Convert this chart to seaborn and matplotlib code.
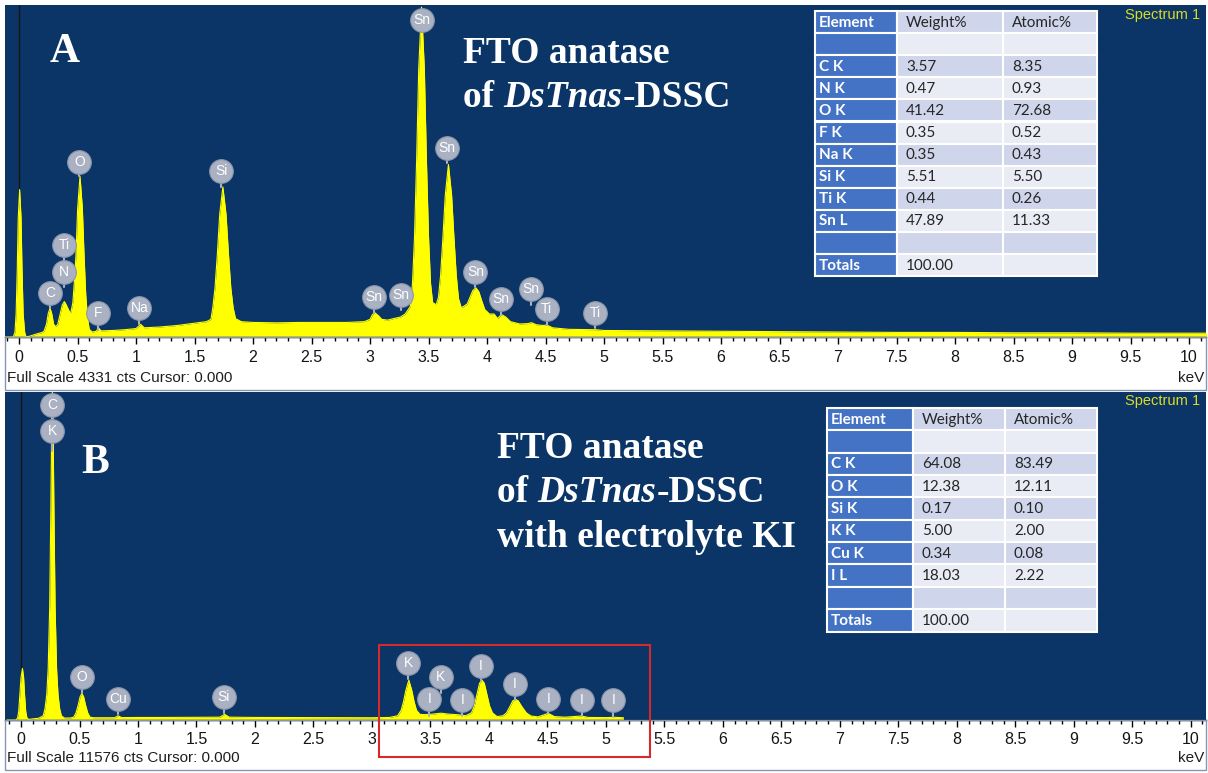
import numpy as np
import pandas as pd
import matplotlib.pyplot as plt
import seaborn as sns
from matplotlib.patches import Rectangle
from matplotlib.ticker import MultipleLocator, FormatStrFormatter

# ============================
# DATA
# ============================
# Panel A spectrum: energy (keV) and counts
energy_a = [-0.12, -0.05, -0.035, -0.025, -0.015, -0.007, 0.005, 0.017, 0.025, 0.035, 0.048, 0.06,
            0.09, 0.15, 0.2, 0.215, 0.235, 0.25, 0.265, 0.28, 0.295, 0.31, 0.33, 0.35, 0.37, 0.387,
            0.40, 0.415, 0.436, 0.445, 0.46, 0.472, 0.486, 0.501, 0.521, 0.541, 0.556, 0.57, 0.585,
            0.60, 0.625, 0.66, 0.68, 0.70, 0.8, 0.9, 1.0, 1.04, 1.07, 1.2, 1.35, 1.5, 1.6, 1.64,
            1.656, 1.675, 1.695, 1.715, 1.742, 1.769, 1.79, 1.81, 1.83, 1.85, 1.9, 2.0, 2.2, 2.4,
            2.6, 2.8, 2.95, 3.0, 3.02, 3.04, 3.07, 3.1, 3.15, 3.2, 3.26, 3.3, 3.345, 3.363, 3.38,
            3.398, 3.416, 3.44, 3.464, 3.482, 3.50, 3.517, 3.535, 3.565, 3.585, 3.603, 3.623, 3.643,
            3.67, 3.697, 3.717, 3.737, 3.756, 3.78, 3.83, 3.86, 3.88, 3.905, 3.93, 3.955, 3.98, 4.02,
            4.06, 4.09, 4.11, 4.13, 4.16, 4.2, 4.28, 4.35, 4.38, 4.42, 4.48, 4.51, 4.56, 4.7, 4.93,
            5.0, 5.5, 6.0, 6.5, 7.0, 7.5, 8.0, 8.5, 9.0, 9.5, 10.0, 10.15]
counts_a = [0, 0, 60, 300, 900, 1550, 1923, 1550, 900, 300, 60, 0,
            10, 40, 60, 80, 170, 310, 375, 300, 170, 135, 160, 290, 420, 462,
            430, 380, 314, 330, 450, 700, 1050, 1680, 2097, 1680, 1050, 550, 250,
            100, 65, 75, 118, 80, 85, 95, 110, 165, 120, 130, 150, 180, 200, 230,
            380, 640, 1080, 1600, 1958, 1600, 1080, 640, 380, 240, 200, 190, 185, 190,
            190, 190, 200, 230, 290, 318, 280, 230, 220, 240, 260, 300, 400, 700, 1300,
            2300, 3500, 4303, 3500, 2300, 1300, 700, 450, 420, 520, 800, 1300, 1850,
            2250, 1850, 1300, 800, 500, 380, 430, 540, 610, 641, 590, 470, 360, 300,
            300, 240, 275, 288, 260, 200, 170, 175, 187, 160, 150, 157, 120, 100, 95,
            85, 80, 75, 70, 65, 60, 60, 55, 55, 50, 50, 50]

# Panel B spectrum
energy_b = [-0.12, -0.045, -0.03, -0.02, -0.01, 0.0, 0.012, 0.022, 0.03, 0.04, 0.05, 0.065,
            0.1, 0.15, 0.19, 0.205, 0.22, 0.232, 0.245, 0.255, 0.262, 0.268, 0.274, 0.281, 0.291,
            0.304, 0.316, 0.33, 0.345, 0.37, 0.42, 0.45, 0.47, 0.49, 0.505, 0.52, 0.535, 0.55,
            0.57, 0.59, 0.62, 0.8, 0.83, 0.86, 1.0, 1.2, 1.5, 1.7, 1.74, 1.78, 2.0, 2.5, 3.0,
            3.15, 3.22, 3.25, 3.27, 3.29, 3.315, 3.34, 3.36, 3.38, 3.41, 3.45, 3.5, 3.59, 3.65,
            3.75, 3.8, 3.85, 3.875, 3.9, 3.92, 3.94, 3.96, 3.98, 4.005, 4.03, 4.07, 4.12, 4.15,
            4.18, 4.205, 4.228, 4.25, 4.28, 4.32, 4.36, 4.42, 4.507, 4.56, 4.65, 4.79, 4.85,
            5.0, 5.077, 5.15]
counts_b = [0, 0, 60, 300, 900, 1500, 1820, 1500, 900, 300, 80, 20,
            40, 60, 150, 400, 900, 1800, 4000, 7500, 10300, 11576, 10300, 7500, 4000,
            1800, 900, 400, 150, 70, 70, 100, 250, 550, 820, 940, 820, 550,
            250, 100, 80, 80, 150, 85, 90, 90, 95, 100, 200, 100, 90, 85, 80,
            90, 150, 350, 650, 1050, 1408, 1050, 650, 350, 200, 190, 200, 240, 210,
            180, 150, 250, 500, 950, 1300, 1408, 1300, 950, 500, 250, 120, 150, 250,
            480, 680, 728, 680, 480, 250, 140, 110, 235, 120, 100, 140, 90,
            85, 94, 80]

# Peak markers: element, energy, label height, end of stem (counts)
marks_a = ['C', 'N', 'Ti', 'O', 'F', 'Na', 'Si', 'Sn', 'Sn', 'Sn', 'Sn', 'Sn', 'Sn', 'Sn', 'Ti', 'Ti']
mark_a_x = [0.265, 0.387, 0.387, 0.515, 0.672, 1.028, 1.73, 3.034, 3.265, 3.442, 3.66, 3.9,
            4.12, 4.373, 4.51, 4.923]
mark_a_y = [579, 854, 1194, 2285, 310, 375, 2171, 527, 549, 4133, 2468, 854, 497, 624, 362, 318]
mark_a_end = [379, 658, 854, 2097, 92, 170, 1962, 314, 353, 3993, 2276, 658, 288, 419, 157, 114]

marks_b = ['C', 'K', 'O', 'Cu', 'Si', 'K', 'I', 'K', 'I', 'I', 'I', 'I', 'I', 'I']
mark_b_x = [0.268, 0.265, 0.519, 0.832, 1.735, 3.31, 3.49, 3.59, 3.772, 3.932, 4.222, 4.507,
            4.792, 5.063]
mark_b_y = [11113, 10208, 1503, 728, 799, 2017, 728, 1525, 704, 1901, 1267, 728, 704, 704]
mark_b_end = [10208, 9500, 940, 211, 246, 1433, 141, 940, 141, 1408, 704, 235, 141, 117]

# Quantification tables
tab_a_elem = ['Element', '', 'C K', 'N K', 'O K', 'F K', 'Na K', 'Si K', 'Ti K', 'Sn L', '', 'Totals']
tab_a_weight = ['Weight%', '', '3.57', '0.47', '41.42', '0.35', '0.35', '5.51', '0.44', '47.89', '', '100.00']
tab_a_atomic = ['Atomic%', '', '8.35', '0.93', '72.68', '0.52', '0.43', '5.50', '0.26', '11.33', '', '']

tab_b_elem = ['Element', '', 'C K', 'O K', 'Si K', 'K K', 'Cu K', 'I L', '', 'Totals']
tab_b_weight = ['Weight%', '', '64.08', '12.38', '0.17', '5.00', '0.34', '18.03', '', '100.00']
tab_b_atomic = ['Atomic%', '', '83.49', '12.11', '0.10', '2.00', '0.08', '2.22', '', '']

full_scale = [4331, 11576]

# ============================
# STYLE
# ============================
sns.set_theme(style='white')
plt.rcParams['font.family'] = ['Liberation Sans', 'DejaVu Sans']

W, H = 1208, 773
BG = '#0a3566'
YELLOW = '#ffff00'
MARK = '#a9b1c2'
TAB_BLUE = '#4472c4'
TAB_DARK = '#cfd5ea'
TAB_LIGHT = '#e9ecf5'

fig = plt.figure(figsize=(W / 100, H / 100), dpi=100)
fig.patch.set_facecolor('white')


def px_axes(left, top, right, bottom):
    return fig.add_axes([left / W, 1 - bottom / H, (right - left) / W, (bottom - top) / H])


def draw_spectrum(ax, energy, counts, xlim, ymax, names, mx, my, mend):
    ax.set_facecolor(BG)
    ax.set_xlim(*xlim)
    ax.set_ylim(0, ymax)
    ax.axvline(0, color='#151515', lw=1, zorder=1)
    df = pd.DataFrame({'keV': energy, 'cts': counts})
    ax.fill_between(df['keV'], df['cts'], color=YELLOW, lw=0, zorder=2)
    sns.lineplot(data=df, x='keV', y='cts', ax=ax, color=YELLOW, lw=0.8, zorder=3)
    ax.set_xlabel('')
    ax.set_ylabel('')
    ax.set_yticks([])
    ax.xaxis.set_major_locator(MultipleLocator(0.5))
    ax.xaxis.set_minor_locator(MultipleLocator(0.1))
    ax.xaxis.set_major_formatter(FormatStrFormatter('%g'))
    ax.tick_params(axis='x', which='both', bottom=True, direction='out', color='black', width=1)
    ax.tick_params(axis='x', which='major', length=5, pad=4, labelsize=11.5, labelcolor='#151515')
    ax.tick_params(axis='x', which='minor', length=3)
    for s in ['top', 'right', 'left']:
        ax.spines[s].set_visible(False)
    ax.spines['bottom'].set_color('black')
    ax.spines['bottom'].set_linewidth(1)

    # peak identification markers
    for x, y, e in zip(mx, my, mend):
        ax.plot([x, x], [e, y], color=MARK, lw=1.5, zorder=4, clip_on=False)
    ax.scatter(mx, my, s=290, color=MARK, edgecolor='#8c96aa', lw=0.8, zorder=5, clip_on=False)
    for t, x, y in zip(names, mx, my):
        ax.text(x, y, t, ha='center', va='center', color='white', fontsize=10, zorder=6)


ax_a = px_axes(5, 5, 1206, 337)
draw_spectrum(ax_a, energy_a, counts_a, (-0.12, 10.145), full_scale[0],
              marks_a, mark_a_x, mark_a_y, mark_a_end)

ax_b = px_axes(5, 392, 1206, 720)
draw_spectrum(ax_b, energy_b, counts_b, (-0.137, 10.13), full_scale[1],
              marks_b, mark_b_x, mark_b_y, mark_b_end)

# ============================
# OVERLAY: tables, captions, frames
# ============================
ov = fig.add_axes([0, 0, 1, 1], zorder=10)
ov.set_xlim(0, W)
ov.set_ylim(H, 0)
ov.axis('off')


def draw_table(cols, top, row_h, elem, weight, atomic):
    for i, row in enumerate(zip(elem, weight, atomic)):
        y = top + i * row_h
        shade = TAB_DARK if i % 2 == 0 else TAB_LIGHT
        for j, txt in enumerate(row):
            x0, x1 = cols[j], cols[j + 1]
            fc = TAB_BLUE if j == 0 else shade
            ov.add_patch(Rectangle((x0, y), x1 - x0, row_h, fc=fc, ec='white', lw=1.5))
            ov.text(x0 + (4 if j == 0 else 9), y + row_h / 2 + 0.5, txt, ha='left', va='center',
                    fontsize=11, family=['Lato', 'DejaVu Sans'],
                    color='white' if j == 0 else '#262626',
                    fontweight='bold' if j == 0 else 'normal')


draw_table([815, 897, 1003, 1097], 11, 22.1, tab_a_elem, tab_a_weight, tab_a_atomic)
draw_table([827, 913, 1005, 1097], 408, 22.35, tab_b_elem, tab_b_weight, tab_b_atomic)

for y in [15, 401]:
    ov.text(1200, y, 'Spectrum 1', ha='right', va='center', fontsize=10.5, color='#dcdc24')

# axis strips
for top, bot, fs in [(337, 390, full_scale[0]), (720, 770, full_scale[1])]:
    ov.add_patch(Rectangle((5, top), 1201, bot - top, fill=False, ec='#8796b0', lw=1))
    ov.text(7, bot - 12, f'Full Scale {fs} cts Cursor: 0.000', ha='left', va='center',
            fontsize=11, color='#1e1e1e')
    ov.text(1204, bot - 12, 'keV', ha='right', va='center', fontsize=11, color='#1e1e1e')

# captions
serif = ['Liberation Serif', 'DejaVu Serif']
cap = dict(color='white', fontsize=27, family=serif, fontweight='bold')
ov.text(50, 62, 'A', va='baseline', ha='left', color='white', fontsize=30, family=serif,
        fontweight='bold')
ov.text(81, 473, 'B', va='baseline', ha='left', color='white', fontsize=30, family=serif,
        fontweight='bold')


def caption_line(x, y, parts):
    prev = None
    for txt, italic in parts:
        style = 'italic' if italic else 'normal'
        if prev is None:
            prev = ov.text(x, y, txt, va='baseline', ha='left', fontstyle=style, **cap)
        else:
            prev = ov.annotate(txt, xy=(1, 0), xycoords=prev, va='bottom', ha='left',
                               fontstyle=style, **cap)


caption_line(463, 63, [('FTO anatase', False)])
caption_line(463, 107, [('of ', False), ('DsTnas', True), ('-DSSC', False)])
caption_line(497, 458, [('FTO anatase', False)])
caption_line(497, 502, [('of ', False), ('DsTnas', True), ('-DSSC', False)])
caption_line(497, 547, [('with electrolyte KI', False)])

# highlight box around the K / I lines
ov.add_patch(Rectangle((379, 645), 271, 112, fill=False, ec='#d42a2a', lw=1.5))

fig.savefig('out.png', dpi=100, facecolor='white')
